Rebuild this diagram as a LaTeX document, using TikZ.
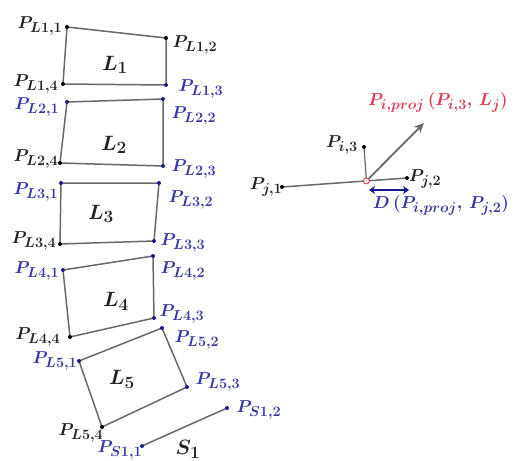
\documentclass[tikz,border=0pt]{standalone}
\usetikzlibrary{calc,arrows.meta}
\DeclareMathSizes{17}{17}{14}{10}
\DeclareMathSizes{18}{18}{14.5}{11}
\DeclareMathSizes{21}{21}{16}{12}
\definecolor{lblue}{RGB}{55,55,165}
\definecolor{dblue}{RGB}{25,25,150}
\definecolor{lred}{RGB}{215,60,80}
\definecolor{lgray}{RGB}{105,105,105}
\definecolor{tblack}{RGB}{35,35,35}
\tikzset{
 kdot/.style={circle,fill=black,inner sep=0pt,minimum size=4pt},
 bdot/.style={circle,fill=dblue,inner sep=0pt,minimum size=4pt},
 edge/.style={draw=lgray,line width=1.5pt},
 plab/.style={inner sep=0pt,text=tblack,font=\fontsize{17}{20}\selectfont\boldmath},
 blab/.style={plab,text=lblue},
 qlab/.style={inner sep=0pt,font=\fontsize{18}{21}\selectfont\boldmath},
 llab/.style={inner sep=0pt,text=tblack,font=\fontsize{21}{24}\selectfont\boldmath},
}
\begin{document}
\begin{tikzpicture}[x=1pt,y=-1pt]
\useasboundingbox (0,0) rectangle (516,460);
% corner points
\coordinate (a1) at (67,27);  \coordinate (a2) at (166,38);
\coordinate (a3) at (166,85); \coordinate (a4) at (63,84);
\coordinate (b1) at (67,102); \coordinate (b2) at (163,99);
\coordinate (b3) at (163,166);\coordinate (b4) at (60,163);
\coordinate (c1) at (61,183); \coordinate (c2) at (159,183);
\coordinate (c3) at (154,241);\coordinate (c4) at (60,244);
\coordinate (d1) at (63,270); \coordinate (d2) at (153,256);
\coordinate (d3) at (154,318);\coordinate (d4) at (70,337);
\coordinate (e1) at (79,361); \coordinate (e2) at (162,328);
\coordinate (e3) at (187,387);\coordinate (e4) at (102,427);
\coordinate (s1) at (142,446);\coordinate (s2) at (227,408);
\coordinate (j1) at (282,187);\coordinate (j2) at (407,178);
\coordinate (i3) at (364,147);
\coordinate (pr) at ($(j1)!(i3)!(j2)$);
\coordinate (tip) at (424,123);
\coordinate (dl) at (369,190);\coordinate (dr) at (409,190);
% polygons
\draw[edge] (a1) -- (a2) -- (a3) -- (a4) -- cycle;
\draw[edge] (b1) -- (b2) -- (b3) -- (b4) -- cycle;
\draw[edge] (c1) -- (c2) -- (c3) -- (c4) -- cycle;
\draw[edge] (d1) -- (d2) -- (d3) -- (d4) -- cycle;
\draw[edge] (e1) -- (e2) -- (e3) -- (e4) -- cycle;
\draw[edge] (s1) -- (s2);
% right part
\draw[edge] (j1) -- (j2);
\draw[draw=lgray,line width=1.2pt] (i3) -- (pr);
\draw[draw=lgray,line width=1.8pt,-{Stealth[length=10pt,width=9pt]}] (pr) -- (tip);
\draw[draw=lred,fill=lred!15,line width=0.8pt] (pr) circle (3pt);
\draw[draw=dblue,line width=1.8pt,{Stealth[length=6pt,width=8pt]}-{Stealth[length=6pt,width=8pt]}] (dl) -- (dr);
% dots
\foreach \p in {a1,a2,a4,b4,c4,d4,e4,j1,j2,i3} \node[kdot] (n\p) at (\p) {};
\foreach \p in {a3,b1,b2,b3,c1,c2,c3,d1,d2,d3,e1,e2,e3,s1,s2} \node[bdot] (n\p) at (\p) {};
% labels
\node[plab] (la1) at (40,26) {$P_{L1,1}$};
\node[plab] (la2) at (195,45) {$P_{L1,2}$};
\node[plab] (la4) at (36,84) {$P_{L1,4}$};
\node[blab] (la3) at (201,89) {$P_{L1,3}$};
\node[blab] (lb1) at (37,107) {$P_{L2,1}$};
\node[blab] (lb2) at (194,116) {$P_{L2,2}$};
\node[plab] (lb4) at (36,159) {$P_{L2,4}$};
\node[blab] (lb3) at (194,169) {$P_{L2,3}$};
\node[blab] (lc1) at (36,192) {$P_{L3,1}$};
\node[blab] (lc2) at (191,200) {$P_{L3,2}$};
\node[plab] (lc4) at (34,241) {$P_{L3,4}$};
\node[blab] (lc3) at (183,243) {$P_{L3,3}$};
\node[blab] (ld1) at (37,271) {$P_{L4,1}$};
\node[blab] (ld2) at (183,271) {$P_{L4,2}$};
\node[blab] (ld3) at (182,314) {$P_{L4,3}$};
\node[plab] (ld4) at (38,337) {$P_{L4,4}$};
\node[blab] (le2) at (197,340) {$P_{L5,2}$};
\node[blab] (le1) at (55,361) {$P_{L5,1}$};
\node[blab] (le3) at (218,382) {$P_{L5,3}$};
\node[plab] (le4) at (81,433) {$P_{L5,4}$};
\node[blab] (ls2) at (259,410) {$P_{S1,2}$};
\node[blab] (ls1) at (120,450) {$P_{S1,1}$};
\node[llab] (L1) at (115,65) {$L_1$};
\node[llab] (L2) at (114,145) {$L_2$};
\node[llab] (L3) at (101,214) {$L_3$};
\node[llab] (L4) at (116,301) {$L_4$};
\node[llab] (L5) at (122,379) {$L_5$};
\node[llab] (S1) at (188,449) {$S_1$};
\node[plab] (li3) at (342,145) {$P_{i,3}$};
\node[plab] (lj1) at (266,187) {$P_{j,1}$};
\node[plab] (lj2) at (425,179) {$P_{j,2}$};
\node[qlab,text=lred] (lproj) at (438,102) {$P_{i,proj}\,(P_{i,3},\,L_j)$};
\node[qlab,text=lblue] (ldist) at (441,205) {$D\,(P_{i,proj},\,P_{j,2})$};
\end{tikzpicture}
\end{document}
